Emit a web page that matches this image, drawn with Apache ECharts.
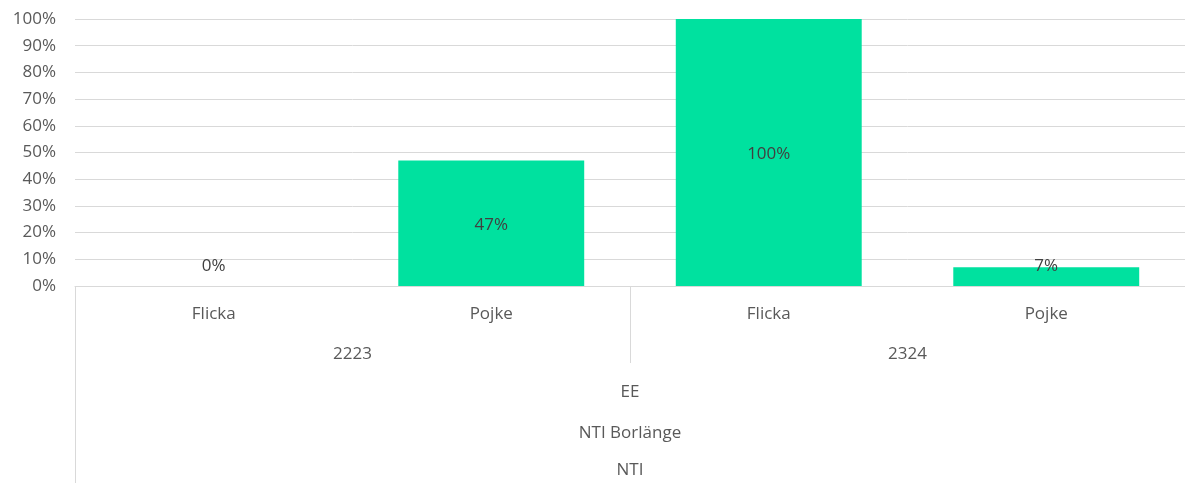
<!DOCTYPE html>
<html>
<head>
<meta charset="utf-8">
<script src="https://cdn.jsdelivr.net/npm/echarts@6/dist/echarts.min.js"></script>
<style>
  html, body { margin: 0; padding: 0; background: #fff; }
  #chart { width: 1185px; height: 483px; }
</style>
</head>
<body>
<div id="chart"></div>
<script>
// data
const genders = ['Flicka', 'Pojke', 'Flicka', 'Pojke']
const years = ['2223', '2324']
const program = ['EE']
const school = ['NTI Borlänge']
const org = ['NTI']
const values = [0, 47, 100, 7]
const yTicks = [0, 10, 20, 30, 40, 50, 60, 70, 80, 90, 100]

const font = "'Century Gothic', 'Open Sans', Lato, sans-serif"
const grey = '#595959'
const lineGrey = '#d9d9d9'
const fs = 17

const levelAxis = (data, margin, tickLen) => ({
  type: 'category',
  position: 'bottom',
  gridIndex: 0,
  data: data,
  axisLine: { show: false },
  axisTick: { show: tickLen > 0, length: tickLen || 0, lineStyle: { color: lineGrey, width: 1 } },
  axisLabel: { margin: margin, color: grey, fontSize: fs, fontFamily: font, interval: 0 },
  splitLine: { show: false }
})

const chart = echarts.init(document.getElementById('chart'))

chart.setOption({
  animation: false,
  grid: { left: 75, right: 0, top: 19, bottom: 197, containLabel: false },
  xAxis: [
    {
      type: 'category',
      data: genders,
      axisLine: { show: true, lineStyle: { color: lineGrey, width: 1 } },
      axisTick: { show: false },
      axisLabel: { margin: 20, color: grey, fontSize: fs, fontFamily: font, interval: 0 }
    },
    levelAxis(years, 60, 77),
    levelAxis(program, 98, 197),
    levelAxis(school, 139, 0),
    levelAxis(org, 176, 0)
  ],
  yAxis: {
    type: 'value',
    min: yTicks[0],
    max: yTicks[yTicks.length - 1],
    interval: 10,
    axisLine: { show: false },
    axisTick: { show: false },
    axisLabel: { formatter: '{value}%', color: grey, fontSize: fs, fontFamily: font, margin: 19 },
    splitLine: { lineStyle: { color: lineGrey, width: 1 } }
  },
  series: [{
    type: 'bar',
    xAxisIndex: 0,
    barCategoryGap: '33%',
    itemStyle: { color: '#00e19f' },
    label: {
      show: true,
      position: 'inside',
      offset: [0, 2],
      formatter: '{c}%',
      color: '#404040',
      fontSize: fs,
      fontFamily: font
    },
    // small bars: excel pushes the label up off the axis
    data: values.map(v => v < 10
      ? { value: v, label: { position: 'insideBottom', distance: 11, offset: [0, 0] } }
      : v)
  }]
})
</script>
</body>
</html>
